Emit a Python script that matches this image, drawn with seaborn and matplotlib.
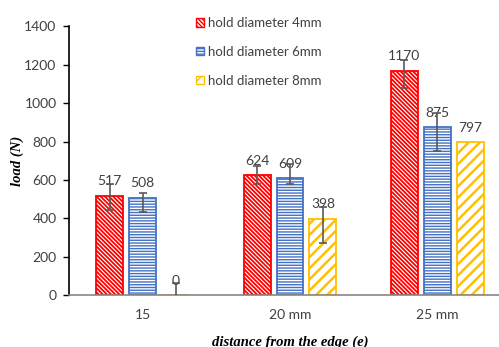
import numpy as np
import pandas as pd
import matplotlib
matplotlib.use("Agg")
import matplotlib.pyplot as plt
from matplotlib.patches import Patch
import seaborn as sns

# datos
distances = ["15", "20 mm", "25 mm"]
series = ["hold diameter 4mm", "hold diameter 6mm", "hold diameter 8mm"]
load_4mm = [517, 624, 1170]
load_6mm = [508, 609, 875]
load_8mm = [0, 398, 797]
err_lo_4mm = [72, 45, 91]
err_hi_4mm = [59, 50, 56]
err_lo_6mm = [75, 30, 126]
err_hi_6mm = [24, 74, 72]
err_lo_8mm = [62, 127, np.nan]
err_hi_8mm = [62, 60, np.nan]

colors = ["#FF0000", "#4472C4", "#FFC000"]
hatches = ["\\" * 8, "-" * 6, "///"]
hatch_lw = [1.3, 1.0, 1.8]

df = pd.DataFrame({
    "distance": distances * 3,
    "series": np.repeat(series, 3),
    "load": load_4mm + load_6mm + load_8mm,
})
errs = [(err_lo_4mm, err_hi_4mm), (err_lo_6mm, err_hi_6mm), (err_lo_8mm, err_hi_8mm)]
values = [load_4mm, load_6mm, load_8mm]

sns.set_style("white")
plt.rcParams["font.family"] = ["Lato", "DejaVu Sans"]
plt.rcParams["hatch.linewidth"] = 1.0

fig = plt.figure(figsize=(4.99, 3.47), dpi=100)
ax = fig.add_axes([69 / 499, 52 / 347, 442 / 499, 268.6 / 347])

sns.barplot(
    data=df, x="distance", y="load", hue="series",
    palette=colors, fill=False, linewidth=1.3,
    width=0.67, gap=0.18, errorbar=None, legend=False, ax=ax,
)

bar_conts = list(ax.containers)
for i, cont in enumerate(bar_conts):
    for p in cont:
        p.set_hatch(hatches[i])
        p.set_edgecolor(colors[i])
        p.set_facecolor("white")
        if hasattr(p, "set_hatch_linewidth"):
            p.set_hatch_linewidth(hatch_lw[i])
    xs = [p.get_x() + p.get_width() / 2 for p in cont]
    ax.errorbar(xs, values[i], yerr=[errs[i][0], errs[i][1]], fmt="none",
                ecolor="#595959", elinewidth=1.2, capsize=2.8, capthick=1.2, zorder=5)
    ax.bar_label(cont, labels=[str(v) for v in values[i]], padding=6,
                 fontsize=10, color="#404040")

ax.set_xlim(-0.5, 2.5)
ax.set_ylim(0, 1400)
ax.set_yticks(range(0, 1401, 200))
ax.tick_params(axis="x", length=0, pad=10, labelsize=10, colors="#404040")
ax.tick_params(axis="y", length=4, width=1, pad=5, labelsize=10, colors="#404040", left=True)
ax.tick_params(axis="y", color="black")
sns.despine(ax=ax)
ax.spines["left"].set_color("black")
ax.spines["left"].set_linewidth(1.2)
ax.spines["bottom"].set_color("#868686")
ax.spines["bottom"].set_linewidth(1.2)

ax.set_xlabel("distance from the edge (e)", family="Liberation Serif", fontweight="bold",
              fontstyle="italic", fontsize=10.5, color="black", va="center")
ax.xaxis.set_label_coords(0.5, (295 - 342) / 268.6)
ax.set_ylabel("load (N)", family="Liberation Serif", fontweight="bold",
              fontstyle="italic", fontsize=10.5, color="black", va="center")
ax.yaxis.set_label_coords((17 - 69) / 442, 0.5)

handles = [Patch(facecolor="white", edgecolor=colors[i], hatch=hatches[i], linewidth=1)
           for i in range(3)]
fig.legend(handles, series, loc="upper left", bbox_to_anchor=(196 / 499, 1 - 17 / 347),
           frameon=False, fontsize=9.5, handlelength=0.6, handleheight=0.6,
           handletextpad=0.3, labelspacing=1.28, borderaxespad=0, borderpad=0,
           labelcolor="#404040")

fig.savefig("out.png", dpi=100)
